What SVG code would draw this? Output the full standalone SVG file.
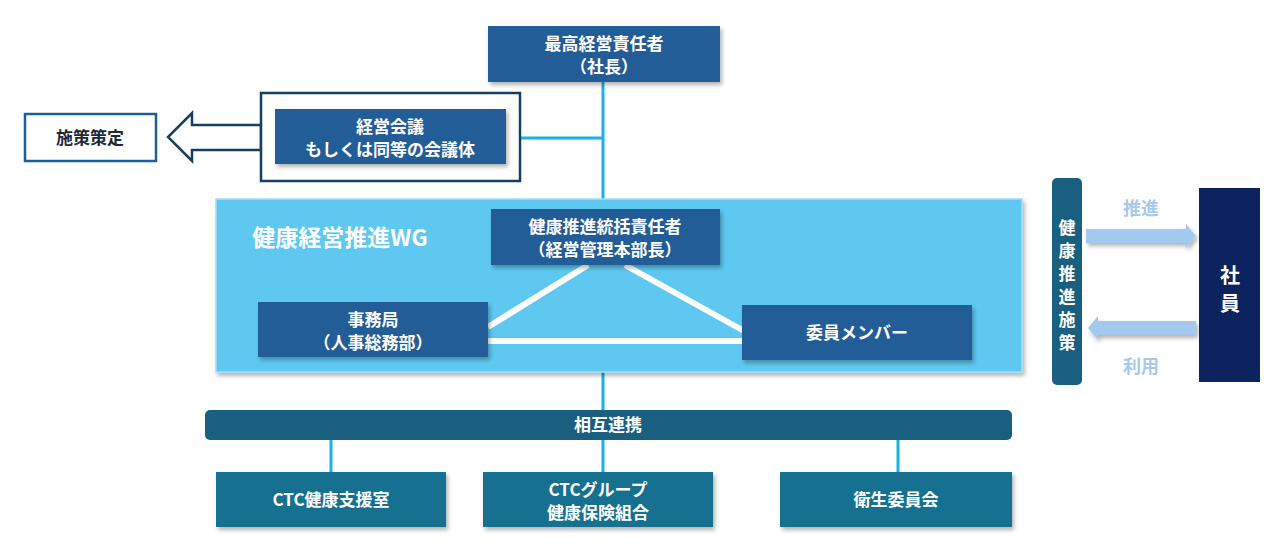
<svg xmlns="http://www.w3.org/2000/svg" width="1280" height="560" viewBox="0 0 1280 560">
<defs>
<style>
text{font-family:"Noto Sans CJK JP","Noto Sans",sans-serif;font-weight:bold;text-anchor:middle}
.nb{fill:#215d98}
.wt{fill:#fff;font-size:17px}
.bt{fill:#15708f}
.ln{stroke:#1ab0e8;stroke-width:3;fill:none}
.wl{stroke:#fff;stroke-width:6;fill:none}
.la{fill:#a3c9ee}
</style>
<filter id="sh" x="-10%" y="-10%" width="130%" height="140%"><feDropShadow dx="2" dy="3" stdDeviation="2" flood-opacity="0.3"/></filter>
</defs>
<g id="connectors">
<line class="ln" x1="603" y1="82" x2="603" y2="200"/>
<line class="ln" x1="506" y1="138" x2="603" y2="138"/>
<line class="ln" x1="603" y1="372" x2="603" y2="410"/>
<line class="ln" x1="331" y1="440" x2="331" y2="472"/>
<line class="ln" x1="603" y1="440" x2="603" y2="472"/>
<line class="ln" x1="898" y1="440" x2="898" y2="472"/>
<polygon points="261,125 192,125 192,113 168,137 192,161 192,150 261,150" fill="#fff" stroke="#173f5f" stroke-width="2.5"/>
</g>
<g id="n-ceo"><rect class="nb" x="488" y="26" width="232" height="56" filter="url(#sh)"/><text class="wt" x="604" y="50">最高経営責任者</text><text class="wt" x="604" y="73">（社長）</text></g>
<g id="n-meeting"><rect x="261" y="93" width="259" height="88" fill="#fff" stroke="#173f5f" stroke-width="2.5"/><rect class="nb" x="275" y="109" width="231" height="55" filter="url(#sh)"/><text class="wt" x="390" y="133">経営会議</text><text class="wt" x="390" y="156">もしくは同等の会議体</text></g>
<g id="n-policy"><rect x="25" y="114" width="131" height="47" fill="#fff" stroke="#215d98" stroke-width="2.5"/><text x="90" y="144" font-size="17" fill="#1b2a3a">施策策定</text></g>
<g id="n-wg"><rect x="216" y="199" width="806" height="173" fill="#5ec8f1" stroke="#a8dcf3" stroke-width="1.5" filter="url(#sh)"/><text x="340" y="246" font-size="23" fill="#fff">健康経営推進WG</text>
<line class="wl" x1="488" y1="327" x2="588" y2="265"/><line class="wl" x1="625" y1="265" x2="744" y2="331"/><line class="wl" x1="488" y1="341" x2="742" y2="341"/></g>
<g id="n-head"><rect class="nb" x="491" y="209" width="229" height="56" filter="url(#sh)"/><text class="wt" x="605" y="233">健康推進統括責任者</text><text class="wt" x="605" y="256">（経営管理本部長）</text></g>
<g id="n-office"><rect class="nb" x="258" y="302" width="230" height="55" filter="url(#sh)"/><text class="wt" x="373" y="326">事務局</text><text class="wt" x="373" y="349">（人事総務部）</text></g>
<g id="n-members"><rect class="nb" x="742" y="305" width="230" height="55" filter="url(#sh)"/><text class="wt" x="857" y="339">委員メンバー</text></g>
<g id="n-coop"><rect x="205" y="410" width="807" height="30" rx="5" fill="#185f80"/><text class="wt" x="608" y="431">相互連携</text></g>
<g id="n-ctc"><rect class="bt" x="216" y="472" width="230" height="55" filter="url(#sh)"/><text class="wt" x="331" y="506">CTC健康支援室</text></g>
<g id="n-kenpo"><rect class="bt" x="483" y="472" width="230" height="55" filter="url(#sh)"/><text class="wt" x="598" y="496">CTCグループ</text><text class="wt" x="598" y="519">健康保険組合</text></g>
<g id="n-eisei"><rect class="bt" x="780" y="472" width="232" height="55" filter="url(#sh)"/><text class="wt" x="896" y="506">衛生委員会</text></g>
<g id="n-measures"><rect x="1052" y="178" width="30" height="207" rx="5" fill="#185f80"/>
<text class="wt" x="1067" y="234">健</text><text class="wt" x="1067" y="257">康</text><text class="wt" x="1067" y="280">推</text><text class="wt" x="1067" y="303">進</text><text class="wt" x="1067" y="326">施</text><text class="wt" x="1067" y="349">策</text></g>
<g id="n-staff"><rect x="1199" y="188" width="61" height="194" fill="#0c2360"/><text x="1230" y="283" font-size="20" fill="#fff">社</text><text x="1230" y="311" font-size="20" fill="#fff">員</text></g>
<g id="arrows">
<polygon class="la" points="1086,229 1186,229 1186,224 1196,236 1186,248 1186,243 1086,243" filter="url(#sh)"/>
<polygon class="la" points="1196,321 1098,321 1098,316 1088,328 1098,340 1098,335 1196,335" filter="url(#sh)"/>
<text x="1141" y="215" font-size="18" fill="#a8c8ec">推進</text>
<text x="1141" y="373" font-size="18" fill="#a8c8ec">利用</text>
</g>
</svg>
